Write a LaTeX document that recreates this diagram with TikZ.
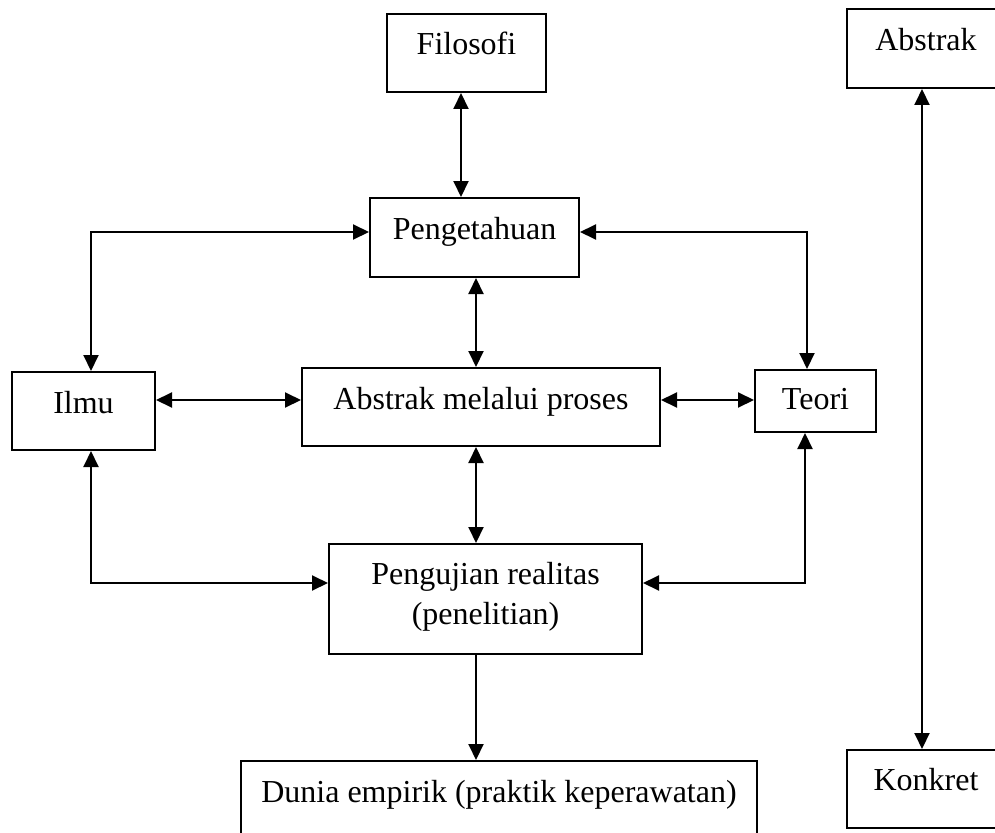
\documentclass[tikz,border=0pt]{standalone}
\usepackage{fontspec}
\setmainfont{Liberation Serif}
\usetikzlibrary{arrows.meta}
\begin{document}
\begin{tikzpicture}[x=1pt,y=-1pt,
  box/.style={draw, line width=2pt, inner sep=0pt, anchor=north,
    font=\fontsize{32}{40}\selectfont},
  link/.style={line width=2pt,
    {Triangle[length=16pt,width=15pt]}-{Triangle[length=16pt,width=15pt]}},
  oneway/.style={line width=2pt, -{Triangle[length=16pt,width=15pt]}}]
\useasboundingbox (0,0) rectangle (995,832);
\clip (0,0) rectangle (995,832);
% boxes
\node[box, minimum width=159pt, text height=41pt, text depth=37pt] (filo) at (466.5,13) {Filosofi};
\node[box, minimum width=209pt, text height=41pt, text depth=38pt] (peng) at (474.5,197) {Pengetahuan};
\node[box, minimum width=143pt, text height=41pt, text depth=37pt] (ilmu) at (83.5,371) {Ilmu};
\node[box, minimum width=358pt, text height=41pt, text depth=37pt] (proc) at (481,367) {Abstrak melalui proses};
\node[box, minimum width=121pt, text height=39pt, text depth=23pt] (teori) at (815.5,369) {Teori};
\node[box, minimum width=313pt, text height=40pt, text depth=70pt] (uji) at (485.5,543)
  {\begin{tabular}[t]{@{}c@{}}Pengujian realitas\\(penelitian)\end{tabular}};
\node[box, minimum width=516pt, text height=41pt, text depth=100pt] (dunia) at (499,760) {Dunia empirik (praktik keperawatan)};
\node[box, minimum width=158pt, text height=42pt, text depth=37pt] (absR) at (926,8) {Abstrak};
\node[box, minimum width=158pt, text height=40pt, text depth=38pt] (konk) at (926,749) {Konkret};
% connectors
\draw[link] ([xshift=-5.5pt]filo.south) -- ([xshift=-5.5pt]filo.south |- peng.north);
\draw[link] ([xshift=1.5pt]peng.south) -- ([xshift=1.5pt]peng.south |- proc.north);
\draw[link] ([xshift=-5pt]proc.south) -- ([xshift=-5pt]proc.south |- uji.north);
\draw[oneway] ([xshift=-9.5pt]uji.south) -- ([xshift=-9.5pt]uji.south |- dunia.north);
\draw[link] ([yshift=5.5pt]peng.west) -| ([xshift=7.5pt]ilmu.north);
\draw[link] ([yshift=5.5pt]peng.east) -| ([xshift=-8.5pt]teori.north);
\draw[link] ([xshift=7.5pt]ilmu.south) |- ([yshift=16pt]uji.west);
\draw[link] ([xshift=-10.5pt]teori.south) |- ([yshift=16pt]uji.east);
\draw[link] ([yshift=11pt]ilmu.east) -- ([yshift=11pt]ilmu.east -| proc.west);
\draw[link] ([yshift=7pt]proc.east) -- ([yshift=7pt]proc.east -| teori.west);
\draw[link] ([xshift=-4pt]absR.south) -- ([xshift=-4pt]absR.south |- konk.north);
\end{tikzpicture}
\end{document}
